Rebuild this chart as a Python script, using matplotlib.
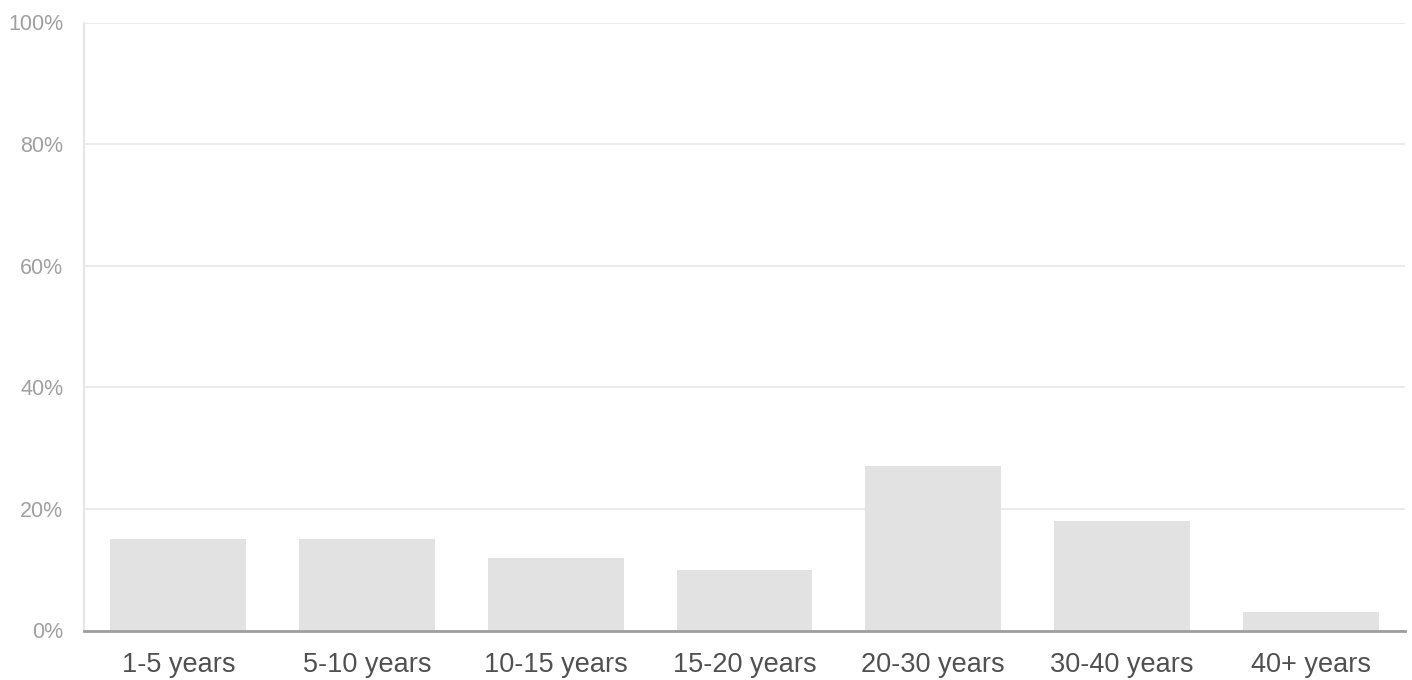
import numpy as np
import matplotlib.pyplot as plt

categorias = ['1-5 years', '5-10 years', '10-15 years', '15-20 years',
              '20-30 years', '30-40 years', '40+ years']
porcentajes = [15, 15, 12, 10, 27, 18, 3]
ticks_y = [0, 20, 40, 60, 80, 100]

plt.rcParams['font.family'] = ['Liberation Sans', 'DejaVu Sans']

fig = plt.figure(figsize=(14.12, 6.8), dpi=100)
ax = fig.add_axes([84 / 1412, 49.5 / 680, 1321 / 1412, 608 / 680])

x = np.arange(len(categorias))
ax.bar(x, porcentajes, width=0.72, color='#e2e2e2', zorder=2)

ax.set_xlim(-0.5, len(categorias) - 0.5)
ax.set_ylim(0, 100)
ax.set_yticks(ticks_y)
ax.set_yticklabels([f'{t}%' for t in ticks_y])
ax.set_xticks(x)
ax.set_xticklabels(categorias)

ax.grid(axis='y', color='#ebebeb', linewidth=1.5, zorder=0)
ax.tick_params(axis='y', length=0, pad=15, labelsize=15.5, labelcolor='#a0a0a0')
ax.tick_params(axis='x', length=0, pad=15.5, labelsize=19.5, labelcolor='#505050')

for lado in ['top', 'right']:
    ax.spines[lado].set_visible(False)
ax.spines['left'].set_color('#e6e6e6')
ax.spines['left'].set_linewidth(1.5)
ax.spines['bottom'].set_color('#9e9e9e')
ax.spines['bottom'].set_linewidth(2)
ax.spines['bottom'].set_zorder(3)

plt.savefig('out.png', dpi=100)
